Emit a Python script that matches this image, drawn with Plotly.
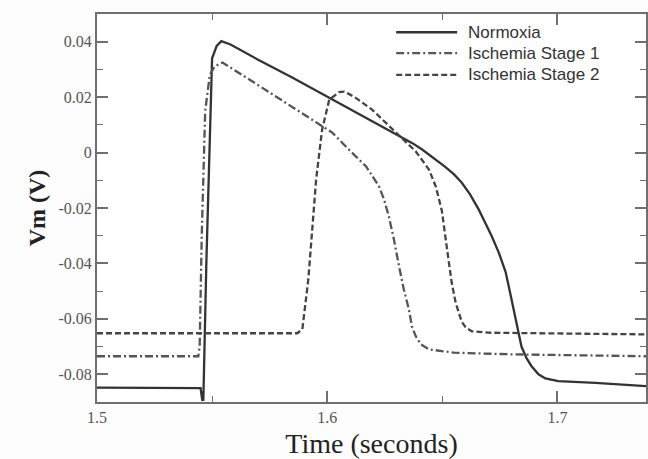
import plotly.graph_objects as go

# ---------------- data ----------------
t_norm = [1.500, 1.520, 1.5450, 1.5457, 1.5462, 1.5475, 1.5490, 1.5500, 1.5520, 1.5540,
          1.5580, 1.570, 1.585, 1.601, 1.615, 1.630, 1.637, 1.6411, 1.6460, 1.6510,
          1.6550, 1.6584, 1.6620, 1.6658, 1.6688, 1.6714, 1.6745, 1.6775, 1.6797, 1.6818,
          1.6831, 1.6844, 1.6866, 1.6887, 1.6918, 1.6948, 1.7004, 1.7165, 1.7385]
v_norm = [-0.0848, -0.0849, -0.0850, -0.0892, -0.0892, -0.040, 0.010, 0.034, 0.0385, 0.0402,
          0.0390, 0.0335, 0.0270, 0.0197, 0.0133, 0.0065, 0.0034, 0.0012, -0.0018, -0.0050,
          -0.0078, -0.0108, -0.0150, -0.0205, -0.0256, -0.0300, -0.0360, -0.0430, -0.0515, -0.0600,
          -0.0652, -0.0700, -0.0742, -0.0770, -0.0800, -0.0815, -0.0825, -0.0831, -0.0843]

t_isc1 = [1.500, 1.5440, 1.5446, 1.5455, 1.5470, 1.5490, 1.5510, 1.5545, 1.565, 1.580,
          1.5978, 1.6022, 1.6095, 1.6169, 1.6225, 1.6247, 1.6268, 1.6290, 1.6312, 1.6333,
          1.6355, 1.6368, 1.6385, 1.6407, 1.6442, 1.655, 1.680, 1.7385]
v_isc1 = [-0.0735, -0.0735, -0.0700, -0.030, 0.015, 0.028, 0.031, 0.0325, 0.0270, 0.0190,
          0.0094, 0.0072, 0.0010, -0.0050, -0.0122, -0.0169, -0.0231, -0.0314, -0.0410, -0.0494,
          -0.0566, -0.0627, -0.0663, -0.0692, -0.0710, -0.0722, -0.0728, -0.0735]

t_isc2 = [1.500, 1.5870, 1.5892, 1.5918, 1.5935, 1.5952, 1.5978, 1.6009, 1.6052, 1.6074,
          1.6120, 1.6195, 1.6299, 1.6385, 1.6442, 1.6472, 1.6485, 1.6498, 1.6515, 1.6528,
          1.6541, 1.6558, 1.6571, 1.6584, 1.6602, 1.6628, 1.6701, 1.7385]
v_isc2 = [-0.0652, -0.0652, -0.0638, -0.0458, -0.0278, -0.0097, 0.0083, 0.0191, 0.0218, 0.0220,
          0.0200, 0.0155, 0.0072, 0.0004, -0.0061, -0.0123, -0.0166, -0.0209, -0.0314, -0.0393,
          -0.0470, -0.0541, -0.0577, -0.0610, -0.0631, -0.0645, -0.0650, -0.0656]

names = ["Normoxia", "Ischemia Stage 1", "Ischemia Stage 2"]

x_tickvals = [1.5, 1.6, 1.7]
x_ticktext = ["1.5", "1.6", "1.7"]
y_tickvals = [0.04, 0.02, 0.0, -0.02, -0.04, -0.06, -0.08]
y_ticktext = ["0.04", "0.02", "0", "-0.02", "-0.04", "-0.06", "-0.08"]

# ---------------- styles ----------------
colors = ["#333333", "#555555", "#444444"]
dashes = ["solid", "8px,3px,2px,3px", "6px,3px"]
series = [(t_norm, v_norm), (t_isc1, v_isc1), (t_isc2, v_isc2)]

fig = go.Figure()
for (tx, vy), nm, c, d in zip(series, names, colors, dashes):
    fig.add_trace(go.Scatter(x=tx, y=vy, mode="lines", name=nm, showlegend=False,
                             line=dict(color=c, width=2.3, dash=d)))

# legend drawn in paper coordinates (long line samples like the reference)
leg_y = [0.953, 0.899, 0.843]
for nm, c, d, yy in zip(names, colors, dashes, leg_y):
    fig.add_shape(type="line", xref="paper", yref="paper", x0=0.545, x1=0.656, y0=yy, y1=yy,
                  line=dict(color=c, width=2.3, dash=d))
    fig.add_annotation(xref="paper", yref="paper", x=0.672, y=yy, text=nm, showarrow=False,
                       xanchor="left", yanchor="middle",
                       font=dict(family="Liberation Sans", size=17, color="#333333"))

axis_common = dict(
    showline=True, linecolor="#6f6f6f", linewidth=2, mirror="allticks",
    ticks="inside", ticklen=11, tickwidth=1.5, tickcolor="#6f6f6f",
    showgrid=False, zeroline=False,
    tickfont=dict(family="Liberation Serif", size=16, color="#555555"),
)

fig.update_xaxes(
    range=[1.5, 1.7385], tickvals=x_tickvals, ticktext=x_ticktext,
    minor=dict(dtick=0.05, tick0=1.5, ticks="inside", ticklen=6, tickwidth=1.2, tickcolor="#6f6f6f"),
    title=dict(text="Time (seconds)", font=dict(family="Liberation Serif", size=28, color="#222222"),
               standoff=8),
    **axis_common)
fig.update_yaxes(
    range=[-0.09, 0.05], tickvals=y_tickvals, ticktext=y_ticktext,
    minor=dict(dtick=0.01, tick0=0, ticks="inside", ticklen=6, tickwidth=1.2, tickcolor="#6f6f6f"),
    title=dict(text="<b>Vm (V)</b>", font=dict(family="Liberation Serif", size=24, color="#222222"),
               standoff=6),
    **axis_common)

fig.update_layout(
    width=648, height=459,
    margin=dict(l=97, r=0, t=14, b=57),
    paper_bgcolor="#fdfdfd", plot_bgcolor="#ffffff",
    showlegend=False,
)

fig.write_html("out.html")
